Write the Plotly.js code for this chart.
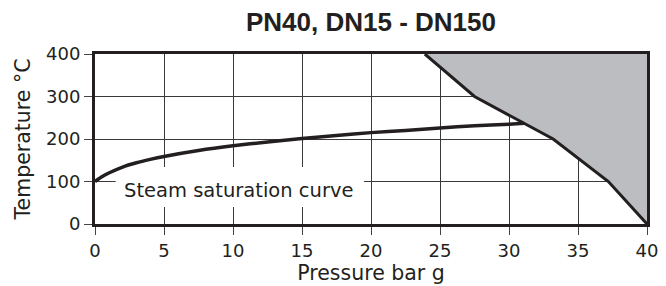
<!DOCTYPE html>
<html>
<head>
<meta charset="utf-8">
<script src="https://cdn.plot.ly/plotly-3.0.1.min.js"></script>
<style>html,body{margin:0;padding:0;background:#fff;}#chart{width:666px;height:286px;}</style>
</head>
<body>
<div id="chart"></div>
<script>
// Steam saturation curve (pressure bar g -> temperature °C)
const satPressure = [0, 0.5, 1, 2, 3, 4, 5, 7.5, 10, 12.5, 15, 17.5, 20, 22.5, 25, 27.5, 30, 31.1];
const satTemp     = [100, 111, 120, 134, 144, 152, 159, 173, 184, 193, 201, 208, 215, 220, 226, 231, 235, 237];

// Operating limit boundary (grey area = not to be used)
const limitPressure = [23.9, 27.5, 33.2, 37.2, 40];
const limitTemp     = [400, 300, 200, 100, 0];

// Axis ticks
const xTicks = [0, 5, 10, 15, 20, 25, 30, 35, 40];
const yTicks = [0, 100, 200, 300, 400];

const titleText = 'PN40, DN15 - DN150';
const labelText = 'Steam saturation curve';

const ink = '#231f20';
const grey = '#bcbdc0';

const fillX = limitPressure.concat([40, limitPressure[0]]);
const fillY = limitTemp.concat([400, 400]);

const traces = [
  {x: fillX, y: fillY, type: 'scatter', mode: 'lines', fill: 'toself',
   fillcolor: grey, line: {width: 0, color: grey}, hoverinfo: 'skip', showlegend: false},
  {x: limitPressure, y: limitTemp, type: 'scatter', mode: 'lines',
   line: {color: ink, width: 3}, showlegend: false},
  {x: satPressure, y: satTemp, type: 'scatter', mode: 'lines',
   line: {color: ink, width: 3.5, shape: 'spline', smoothing: 0.6}, showlegend: false}
];

const tickFont = {family: 'DejaVu Sans, Arial, sans-serif', size: 18, color: ink};
const axisTitleFont = {family: 'DejaVu Sans, Arial, sans-serif', size: 20.5, color: ink};

const layout = {
  width: 666, height: 286,
  margin: {l: 95, r: 19, t: 54, b: 62, pad: 0},
  paper_bgcolor: '#fff', plot_bgcolor: '#fff',
  showlegend: false,
  title: {text: '<b>' + titleText + '</b>', x: 0.5, xref: 'paper', xanchor: 'center',
          y: 1 - 22/286, yref: 'container', yanchor: 'middle',
          font: {family: 'Liberation Sans, Arial, sans-serif', size: 26, color: ink}},
  xaxis: {range: [0, 40], tickvals: xTicks, ticktext: xTicks.map(String),
          showgrid: true, gridcolor: '#3a3a3a', gridwidth: 1, zeroline: false,
          showline: true, linecolor: ink, linewidth: 3, mirror: true,
          ticks: 'outside', ticklen: 8, tickwidth: 1, tickcolor: '#444',
          tickfont: tickFont, fixedrange: true,
          title: {text: 'Pressure bar g', font: axisTitleFont, standoff: 4}},
  yaxis: {range: [0, 400], tickvals: yTicks, ticktext: yTicks.map(String),
          showgrid: true, gridcolor: '#3a3a3a', gridwidth: 1, zeroline: false,
          showline: true, linecolor: ink, linewidth: 3, mirror: true,
          ticks: 'outside', ticklen: 8, tickwidth: 1, tickcolor: '#444',
          tickfont: tickFont, fixedrange: true,
          title: {text: 'Temperature °C', font: axisTitleFont, standoff: 10}},
  shapes: [
    {type: 'rect', xref: 'x', yref: 'y', x0: 1.5, x1: 19.5, y0: 40, y1: 134,
     fillcolor: '#fff', line: {width: 0}, layer: 'between'}
  ],
  annotations: [
    {text: labelText, x: 10.38, y: 80, xref: 'x', yref: 'y', showarrow: false,
     xanchor: 'center', yanchor: 'middle',
     font: {family: 'DejaVu Sans, Arial, sans-serif', size: 19.5, color: ink}}
  ]
};

Plotly.newPlot('chart', traces, layout, {displayModeBar: false, staticPlot: true});
</script>
</body>
</html>
